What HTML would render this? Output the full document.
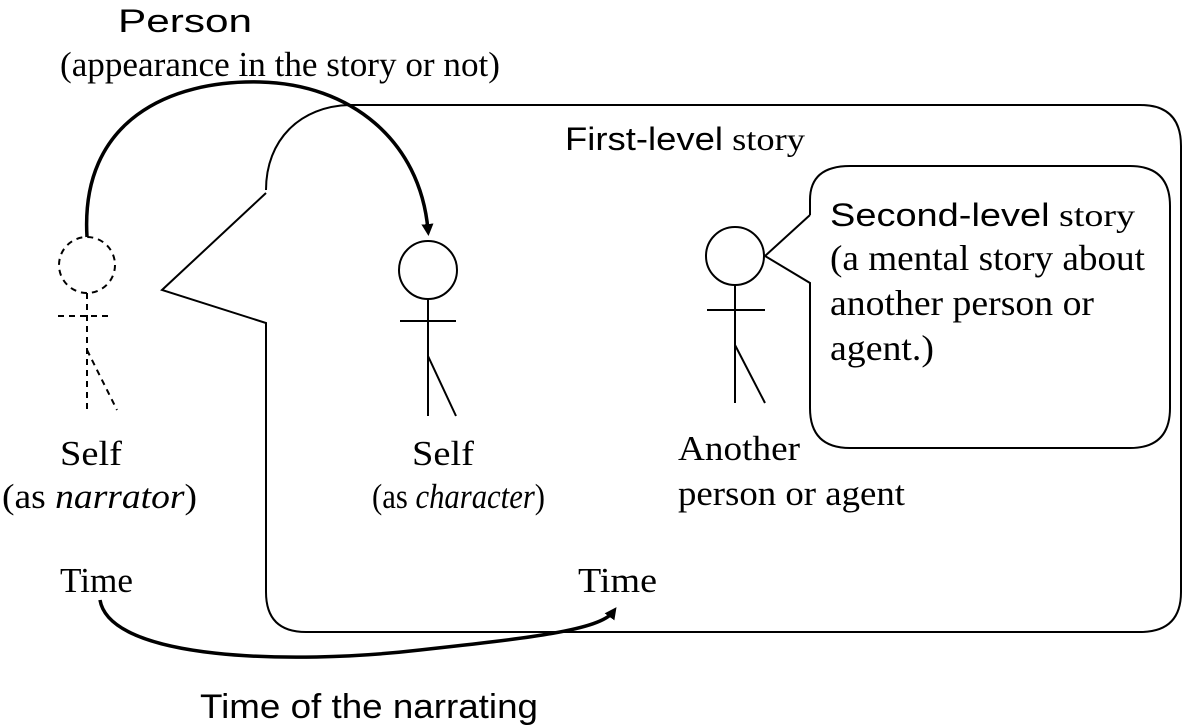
<!DOCTYPE html>
<html><head><style>
body{margin:0;background:#fff;}
svg{display:block}
.s{font-family:"Liberation Sans",sans-serif}
.r{font-family:"Liberation Serif",serif}
</style></head><body>
<svg width="1187" height="728" viewBox="0 0 1187 728">
<defs><marker id="a" markerWidth="12" markerHeight="12" refX="6" refY="6" orient="auto" markerUnits="userSpaceOnUse"><path d="M0,0 L12,6 L0,12 z" fill="#000"/></marker></defs>
<g fill="none" stroke="#000" stroke-width="2">
<path d="M266,190 C266,140 300,106 350,105 L1140,105 Q1181,105 1181,146 L1181,592 Q1181,632 1140,632 L306,632 Q266,632 266,592 L266,323 L162,290 L266,193"/>
<path d="M810,215 L810,200 Q810,166 850,166 L1130,166 Q1170,166 1170,206 L1170,408 Q1170,448 1130,448 L850,448 Q810,448 810,408 L810,283 L765,256 L810,215"/>
<circle cx="428" cy="270" r="29"/>
<path d="M428,299 V416 M400,321 H456 M428,356 L456,416"/>
<circle cx="735" cy="256" r="29"/>
<path d="M735,285 V403 M707,310 H765 M735,345 L765,403"/>
<g stroke-dasharray="6,5">
<circle cx="87" cy="265" r="28"/>
<path d="M87,293 V410 M58,316 H112 M87,350 L117,410"/>
</g>
<path d="M87,237 C80,120 170,80 260,82 C350,84 420,140 428,230" stroke-width="3.5" marker-end="url(#a)"/>
<path d="M100,600 C110,660 290,665 420,650 C530,638 600,630 613,612" stroke-width="3.5" marker-end="url(#a)"/>
</g>
<g fill="#000">
<text class="s" x="118" y="32" font-size="32" textLength="134" lengthAdjust="spacingAndGlyphs">Person</text>
<text class="r" x="60" y="76" font-size="35" textLength="440" lengthAdjust="spacingAndGlyphs">(appearance in the story or not)</text>
<text x="565" y="150" font-size="32" textLength="240" lengthAdjust="spacingAndGlyphs"><tspan class="s">First-level</tspan><tspan class="r"> story</tspan></text>
<text x="830" y="226" font-size="32" textLength="305" lengthAdjust="spacingAndGlyphs"><tspan class="s">Second-level</tspan><tspan class="r"> story</tspan></text>
<text class="r" font-size="36" x="830" y="270" textLength="315" lengthAdjust="spacingAndGlyphs">(a mental story about</text>
<text class="r" font-size="36" x="830" y="315" textLength="264" lengthAdjust="spacingAndGlyphs">another person or</text>
<text class="r" font-size="36" x="830" y="360" textLength="104" lengthAdjust="spacingAndGlyphs">agent.)</text>
<text class="r" font-size="35" x="60" y="465" textLength="62" lengthAdjust="spacingAndGlyphs">Self</text>
<text class="r" font-size="35" x="2" y="508" textLength="195" lengthAdjust="spacingAndGlyphs">(as <tspan font-style="italic">narrator</tspan>)</text>
<text class="r" font-size="35" x="412" y="465" textLength="62" lengthAdjust="spacingAndGlyphs">Self</text>
<text class="r" font-size="35" x="372" y="508" textLength="173" lengthAdjust="spacingAndGlyphs">(as <tspan font-style="italic">character</tspan>)</text>
<text class="r" font-size="35" x="678" y="460" textLength="122" lengthAdjust="spacingAndGlyphs">Another</text>
<text class="r" font-size="35" x="678" y="505" textLength="227" lengthAdjust="spacingAndGlyphs">person or agent</text>
<text class="r" font-size="35" x="60" y="592" textLength="73" lengthAdjust="spacingAndGlyphs">Time</text>
<text class="r" font-size="35" x="578" y="592" textLength="79" lengthAdjust="spacingAndGlyphs">Time</text>
<text class="s" font-size="34" x="200" y="718" textLength="338" lengthAdjust="spacingAndGlyphs">Time of the narrating</text>
</g>
</svg>
</body></html>
